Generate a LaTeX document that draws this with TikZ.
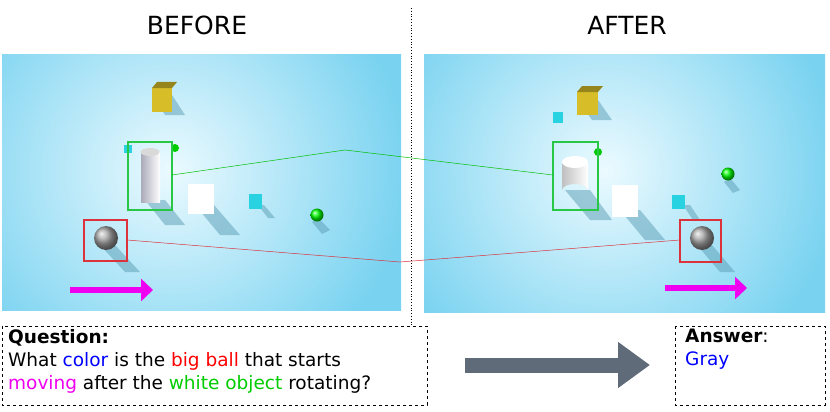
\documentclass[tikz,border=0pt]{standalone}
\usepackage{fontspec}
\setmainfont{DejaVu Sans}
\usetikzlibrary{shadings,arrows.meta}
\definecolor{sky}{RGB}{120,210,240}
\definecolor{skylt}{RGB}{235,250,255}
\definecolor{mag}{RGB}{240,0,240}
\definecolor{gbox}{RGB}{40,200,70}
\definecolor{rbox}{RGB}{220,50,60}
\definecolor{ycube}{RGB}{215,190,40}
\definecolor{ccube}{RGB}{40,210,225}
\definecolor{arrowg}{RGB}{95,107,120}
\tikzset{
  panel/.style={inner color=skylt,outer color=sky},
  shadowc/.style={fill=black!25!sky,opacity=0.5},
  selbox/.style={line width=1.5pt},
  dbox/.style={draw,dashed,line width=0.6pt},
  magarrow/.style={draw=mag,line width=6pt,-{Triangle[length=12pt,width=22pt]}},
  txt/.style={font=\fontsize{18.5}{23}\selectfont,align=left,anchor=north west,inner sep=0pt}
}
\begin{document}
\begin{tikzpicture}[x=1pt,y=-1pt]
\useasboundingbox[fill=white] (0,0) rectangle (830,412);
% titles
\node[font=\fontsize{25}{28}\selectfont] (tb) at (197,25) {BEFORE};
\node[font=\fontsize{25}{28}\selectfont] (ta) at (627,25) {AFTER};
\draw[dotted,line width=0.8pt] (411,8) -- (411,325);
% panels
\begin{scope}
\clip (2,55) rectangle (401,310);
\shade[panel] (-70,-60) rectangle (410,400);
\end{scope}
\begin{scope}
\clip (424,55) rectangle (825,312);
\shade[panel] (370,-60) rectangle (840,400);
\end{scope}
% ---- left scene
\fill[shadowc] (152,95) -- (172,95) -- (185,115) -- (165,115) -- cycle;
\fill[ycube] (152,88) rectangle (172,112);
\fill[ycube!70!black] (152,88) -- (157,82) -- (177,82) -- (172,88) -- cycle;
\fill[ccube] (124,145) rectangle (132,153);
\fill[green!80!black] (175,148) circle (4);
\fill[shadowc] (145,200) -- (165,200) -- (185,225) -- (165,225) -- cycle;
\shade[left color=blue!10!gray!60,right color=white] (141,152) rectangle (160,202);
\fill[gray!30] (150,152) ellipse (9.5 and 4);
\fill[shadowc] (195,205) -- (214,205) -- (240,235) -- (220,235) -- cycle;
\fill[white] (188,184) rectangle (214,214);
\fill[shadowc] (258,205) -- (264,205) -- (275,218) -- (268,218) -- cycle;
\fill[ccube] (249,194) rectangle (262,209);
\fill[shadowc] (318,218) -- (330,230) -- (322,234) -- (312,222) -- cycle;
\shade[ball color=green] (317,215) circle (6.5);
\fill[shadowc] (100,245) -- (115,245) -- (140,272) -- (125,272) -- cycle;
\shade[ball color=gray!70] (106,238) circle (12);
\draw[gbox,selbox] (128,142) rectangle (172,210);
\draw[rbox,selbox] (84,220) rectangle (127,261);
\path[magarrow] (70,290) -- (153,290);
% ---- right scene
\fill[shadowc] (578,100) -- (598,100) -- (612,120) -- (592,120) -- cycle;
\fill[ycube] (577,92) rectangle (598,115);
\fill[ycube!70!black] (577,92) -- (582,86) -- (603,86) -- (598,92) -- cycle;
\fill[ccube] (553,112) rectangle (563,123);
\fill[green!80!black] (598,152) circle (4);
\fill[shadowc] (565,190) -- (590,190) -- (612,220) -- (590,220) -- cycle;
\shade[left color=gray!50,right color=white] (562,165) -- (562,190) arc (180:360:13 and 6) -- (588,165) arc (0:-180:13 and 6) -- cycle;
\fill[white] (575,162) ellipse (13 and 6);
\fill[shadowc] (620,210) -- (640,210) -- (665,240) -- (645,240) -- cycle;
\fill[white] (612,185) rectangle (638,217);
\fill[shadowc] (683,205) -- (690,205) -- (700,220) -- (693,220) -- cycle;
\fill[ccube] (672,195) rectangle (685,209);
\fill[shadowc] (730,178) -- (740,190) -- (733,193) -- (724,182) -- cycle;
\shade[ball color=green] (728,174) circle (6.5);
\fill[shadowc] (697,245) -- (712,245) -- (735,272) -- (720,272) -- cycle;
\shade[ball color=gray!70] (702,238) circle (12);
\draw[gbox,selbox] (553,142) rectangle (598,210);
\draw[rbox,selbox] (680,220) rectangle (721,262);
\path[magarrow] (665,288) -- (747,288);
% connectors
\coordinate (gm) at (345,150);
\coordinate (rm) at (400,262);
\draw[green!75!black,line width=0.5pt] (172,175) -- (gm) -- (553,175);
\draw[rbox,line width=0.5pt] (127,240) -- (rm) -- (680,240);
% question box
\draw[dbox] (2,326) rectangle (427,405);
\node[txt] (q) at (8,329) {\textbf{Question:}\\
What \textcolor{blue}{color} is the \textcolor{red}{big ball} that starts\\
\textcolor{mag}{moving} after the \textcolor{green!80!black}{white object} rotating?};
% big arrow
\draw[arrowg,line width=15pt,-{Triangle[length=32pt,width=44pt]}] (465,365) -- (650,365);
% answer box
\draw[dbox] (675,326) rectangle (825,405);
\node[txt] (a) at (685,329) {\textbf{Answer}:\\ \textcolor{blue}{Gray}};
\end{tikzpicture}
\end{document}
